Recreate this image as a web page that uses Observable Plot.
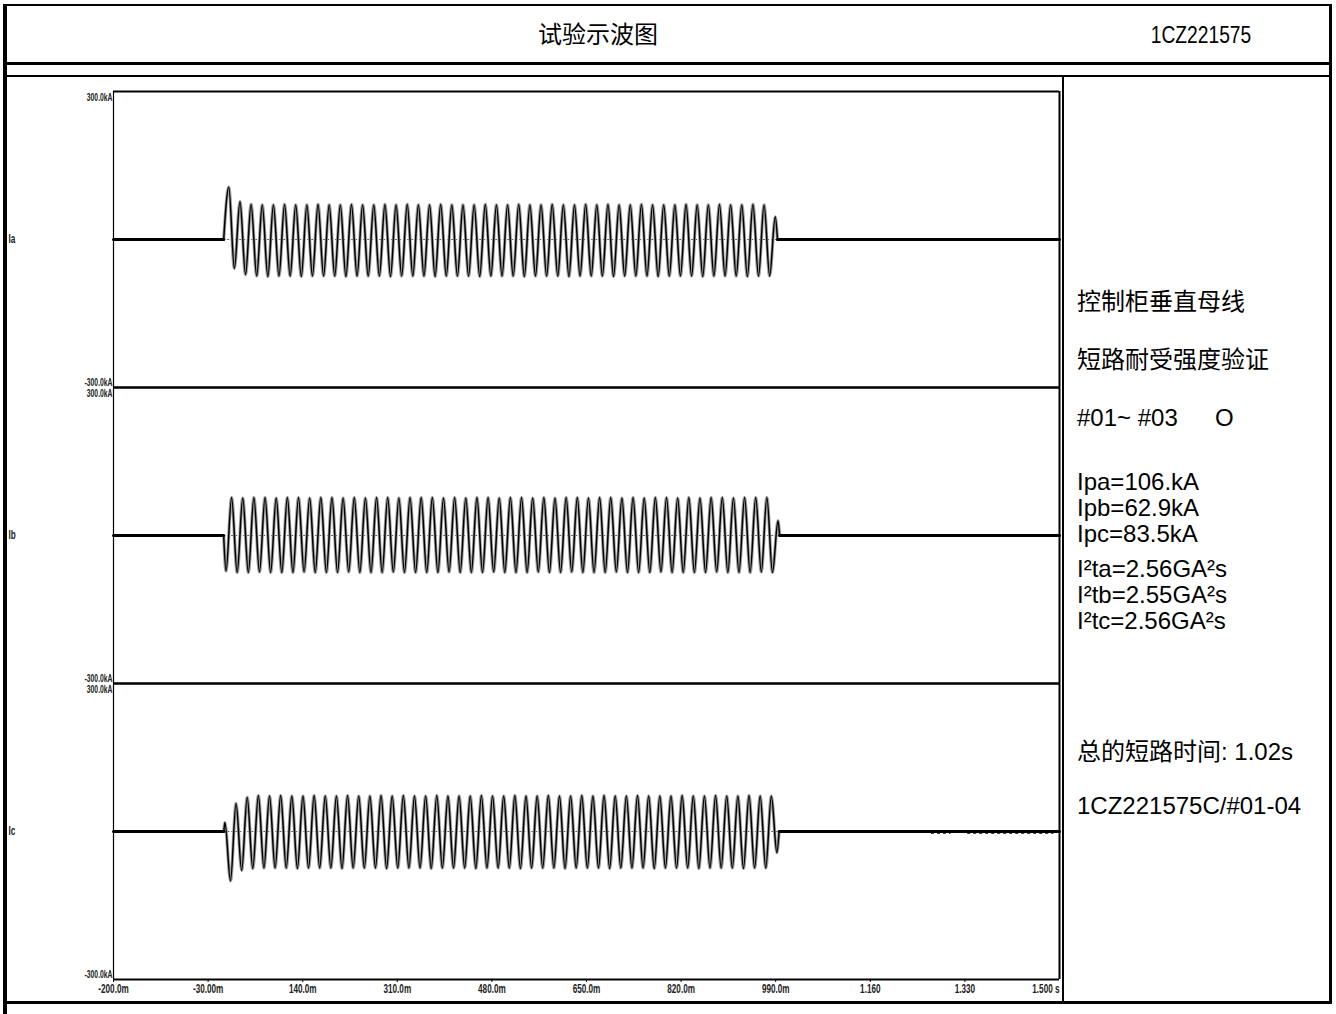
<!DOCTYPE html>
<html><head><meta charset="utf-8">
<script src="https://cdn.jsdelivr.net/npm/d3@7"></script>
<script src="https://cdn.jsdelivr.net/npm/@observablehq/plot@0.6"></script>
<style>
html,body{margin:0;padding:0;background:#fff;}
#page{position:relative;width:1336px;height:1014px;overflow:hidden;background:#fff;font-family:"Liberation Sans",Arial,"Noto Sans CJK SC",sans-serif;color:#000;}
.ln{position:absolute;background:#000;}
.t{position:absolute;white-space:pre;font-size:24px;line-height:1;transform:translateY(-50%);}
.c{transform:translate(-50%,-50%);}
#chart{position:absolute;left:0;top:0;}
</style></head><body><div id="page"><div id="chart"></div></div>
<script>
// ---------- data ----------
const title = "试验示波图";
const reportNo = "1CZ221575";
const phases = ["Ia", "Ib", "Ic"];
const xTicks = [-0.2, -0.03, 0.14, 0.31, 0.48, 0.65, 0.82, 0.99, 1.16, 1.33, 1.5];
const xTickLabels = ["-200.0m", "-30.00m", "140.0m", "310.0m", "480.0m", "650.0m", "820.0m", "990.0m", "1.160", "1.330", "1.500 s"];
const yLimits = [300, -300];
const yLimitLabels = ["300.0kA", "-300.0kA"];
const faultStart = [-0.002, -0.002, -0.0017];   // s, where each trace leaves zero
const faultEnd = [0.9932, 0.997, 0.9961];       // s, where each trace returns to zero
const firstExtremum = [0.0072, 0.0022, 0.0002]; // s, time of the first half-wave crest
const halfCycle = 0.01002;                      // s, spacing of successive crests (50 Hz)
// successive half-wave crest values, kA
const extremaIa = [
  106,-59,77,-71,71,-74,70,-75,
  70,-74,71,-74,70,-75,70,-74,71,-74,70,-74,
  70,-75,71,-74,70,-74,70,-74,71,-75,70,-74,
  71,-74,70,-74,70,-75,71,-74,70,-74,70,-74,
  70,-75,71,-74,70,-74,70,-74,71,-75,70,-74,
  70,-74,71,-74,70,-75,70,-74,71,-74,70,-74,
  71,-75,70,-74,70,-74,71,-74,70,-75,70,-74,
  70,-74,71,-74,70,-75,70,-74,71,-74,70,-74,
  70,-75,71,-74,70,-74,
  46];
const extremaIb = [
  -72,
  77,-75,76,-75,77,-74,77,-75,76,-75,77,-75,
  77,-74,76,-75,77,-75,77,-75,76,-74,77,-75,
  76,-75,77,-75,77,-74,76,-75,77,-75,77,-75,
  77,-75,76,-74,77,-75,76,-75,77,-75,77,-74,
  76,-75,77,-75,77,-75,76,-74,77,-75,76,-75,
  77,-74,77,-75,76,-75,77,-75,77,-74,76,-75,
  77,-75,76,-75,77,-74,77,-75,76,-75,77,-75,
  76,-75,77,-74,77,-75,76,-75,77,-75,77,-74,
  77,-75,
  30];
const extremaIc = [
  18,-100,57,-79,69,-75,73,-74,
  72,-74,73,-74,72,-75,72,-74,73,-74,72,-74,
  72,-75,73,-74,72,-74,72,-74,73,-75,72,-74,
  73,-74,72,-74,72,-75,73,-74,72,-74,72,-74,
  72,-75,73,-74,72,-74,72,-74,73,-75,72,-74,
  72,-74,73,-74,72,-75,72,-74,73,-74,72,-74,
  73,-75,72,-74,72,-74,73,-74,72,-75,72,-74,
  72,-74,73,-74,72,-75,72,-74,73,-74,72,-74,
  72,-75,73,-74,72,-74,
  72,-43];
// short bursts of residual noise on Ic after clearing: [start s, end s, level kA]
const noiseIcStart = [1.27, 1.335];
const noiseIcEnd = [1.305, 1.49];
const noiseIcLevel = [-3.5, -3.5];
const infoLines = ["控制柜垂直母线", "短路耐受强度验证"];
const shotLabel = "#01~ #03";
const shotMark = "O";
const peakLines = ["Ipa=106.kA", "Ipb=62.9kA", "Ipc=83.5kA"];
const i2tLines = ["I²ta=2.56GA²s", "I²tb=2.55GA²s", "I²tc=2.56GA²s"];
const durationLine = "总的短路时间: 1.02s";
const fileLine = "1CZ221575C/#01-04";

// ---------- tables for the library ----------
const extrema = [extremaIa, extremaIb, extremaIc];
const waves = [];
const idle = [];
const zeroLines = [];
phases.forEach((p, i) => {
  waves.push({phase: p, t: faultStart[i], v: 0});
  extrema[i].forEach((v, k) => waves.push({phase: p, t: firstExtremum[i] + k * halfCycle, v}));
  waves.push({phase: p, t: faultEnd[i], v: 0});
  idle.push({phase: p, seg: p + "pre", t: xTicks[0], v: 0});
  idle.push({phase: p, seg: p + "pre", t: faultStart[i], v: 0});
  idle.push({phase: p, seg: p + "post", t: faultEnd[i], v: 0});
  idle.push({phase: p, seg: p + "post", t: xTicks[xTicks.length - 1], v: 0});
  zeroLines.push({phase: p, x1: faultStart[i], x2: faultEnd[i]});
});
const noise = noiseIcStart.map((s, i) => ({phase: phases[2], x1: s, x2: noiseIcEnd[i], v: noiseIcLevel[i]}));
const labelOf = new Map(xTicks.map((d, i) => [d, xTickLabels[i]]));
const lastT = xTicks[xTicks.length - 1];

const chart = Plot.plot({
  width: 1070, height: 1003,
  marginLeft: 113, marginRight: 11, marginTop: 90, marginBottom: 23,
  x: {domain: [xTicks[0], lastT]},
  y: {domain: [yLimits[1], yLimits[0]], axis: null},
  fy: {domain: phases, padding: 0, axis: null},
  style: {fontFamily: '"Liberation Sans",Arial,sans-serif', fontSize: "10px", background: "transparent", overflow: "visible", color: "#000"},
  marks: [
    Plot.ruleY(zeroLines, {fy: "phase", y: () => 0, x1: "x1", x2: "x2", stroke: "#333", strokeWidth: 0.8, strokeDasharray: "2,2"}),
    Plot.line(waves, {x: "t", y: "v", fy: "phase", curve: "monotone-x", stroke: "#a0a0a0", strokeWidth: 3.2}),
    Plot.line(waves, {x: "t", y: "v", fy: "phase", curve: "monotone-x", stroke: "#000", strokeWidth: 1.5}),
    Plot.line(idle, {x: "t", y: "v", fy: "phase", z: "seg", stroke: "#000", strokeWidth: 3}),
    Plot.ruleY(noise, {fy: "phase", y: "v", x1: "x1", x2: "x2", stroke: "#000", strokeWidth: 1.2, strokeDasharray: "3,3"}),
    Plot.ruleY(yLimits, {stroke: "#000", strokeWidth: 2}),
    Plot.ruleX([xTicks[0]], {stroke: "#000", strokeWidth: 1.2}),
    Plot.ruleX([lastT], {stroke: "#000", strokeWidth: 2}),
    Plot.text([yLimitLabels[0]], {text: d => d, frameAnchor: "top-left", textAnchor: "end", lineAnchor: "top", dx: -1, dy: 2, fontSize: 10, fontWeight: "bold", fill: "#222"}),
    Plot.text([yLimitLabels[1]], {text: d => d, frameAnchor: "bottom-left", textAnchor: "end", lineAnchor: "bottom", dx: -1, dy: -2, fontSize: 10, fontWeight: "bold", fill: "#222"}),
    Plot.text(phases, {fy: d => d, text: d => d, frameAnchor: "left", textAnchor: "start", dx: -105, fontSize: 12, fontWeight: "bold", fill: "#222"}),
    Plot.axisX(xTicks.slice(0, -1), {tickFormat: d => labelOf.get(d), tickSize: 3, tickPadding: 2, fontSize: 12, fontWeight: "bold", fill: "#222", stroke: "#000", label: null}),
    Plot.text([lastT], {x: d => d, fy: () => phases[2], text: () => xTickLabels[xTickLabels.length - 1], frameAnchor: "bottom", textAnchor: "end", lineAnchor: "top", dy: 5, fontSize: 12, fontWeight: "bold", fill: "#222"})
  ]
});
document.getElementById("chart").appendChild(chart);
// condense the small oscillograph lettering horizontally about each text's anchor
chart.querySelectorAll("text").forEach(t => {
  const x = +(t.getAttribute("x") || 0);
  const tr = t.getAttribute("transform") || "";
  t.setAttribute("transform", `${tr} translate(${x},0) scale(0.68,1) translate(${-x},0)`);
});

// ---------- table frame and texts ----------
const page = document.getElementById("page");
function line(l, t, w, h) { const d = document.createElement("div"); d.className = "ln"; Object.assign(d.style, {left: l + "px", top: t + "px", width: w + "px", height: h + "px"}); page.appendChild(d); }
function text(s, l, cy, size, cls) { const d = document.createElement("div"); d.className = "t" + (cls ? " " + cls : ""); d.textContent = s; Object.assign(d.style, {left: l + "px", top: cy + "px", fontSize: size + "px"}); page.appendChild(d); return d; }
line(3, 4, 4, 1010);      // outer left
line(3, 4, 1329, 2);      // outer top
line(1329, 4, 3, 999);    // outer right
line(3, 62, 1329, 2.5);   // header bottom
line(3, 75, 1329, 2);     // second rule
line(1062, 76, 2, 927);   // right panel divider
line(3, 1001, 1329, 2.5); // bottom rule

text(title, 598, 35, 24, "c");
const no = text(reportNo, 1201, 35, 24, "c");
no.style.transform = "translate(-50%,-50%) scaleX(0.8)";
text(infoLines[0], 1077, 302, 24);
text(infoLines[1], 1077, 360, 24);
text(shotLabel, 1077, 418, 24);
text(shotMark, 1215, 418, 24);
peakLines.forEach((s, i) => text(s, 1077, 482 + i * 26, 24));
i2tLines.forEach((s, i) => text(s, 1077, 569 + i * 26, 24));
text(durationLine, 1077, 752, 24);
text(fileLine, 1077, 806, 24);
</script></body></html>
